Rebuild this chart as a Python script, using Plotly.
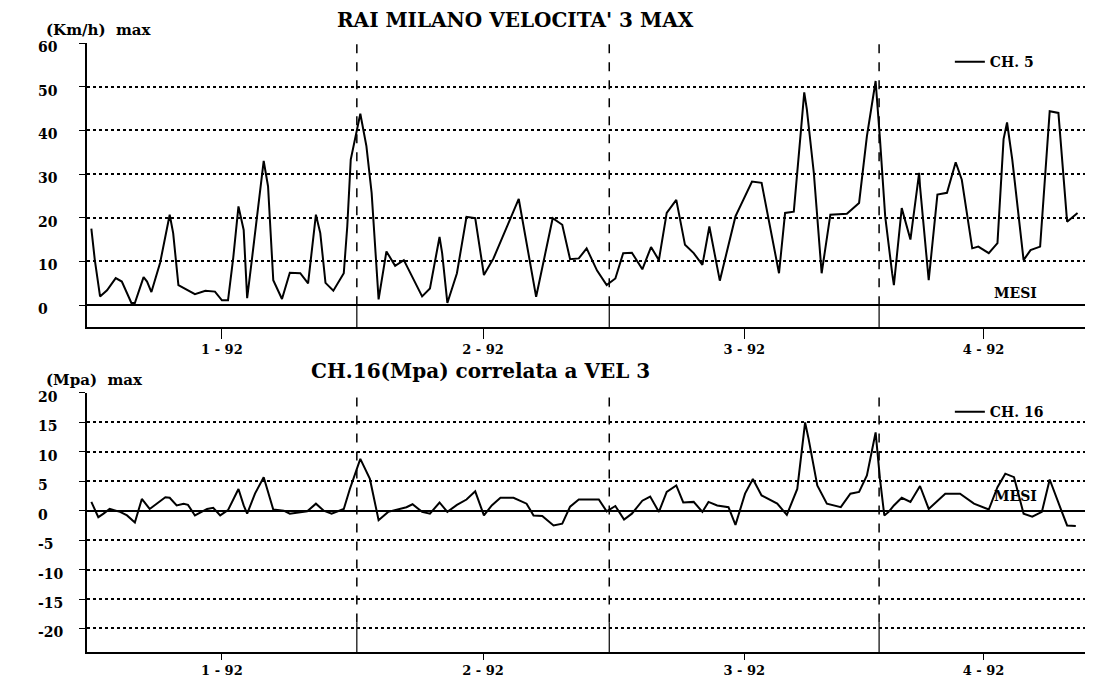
import plotly.graph_objects as go
from plotly.subplots import make_subplots

# days counted from 1 Jan 1992
vel_days = [0.5, 0.9, 1.5, 2.3, 3.3, 4.0, 5.1, 5.5, 6.5, 6.9, 7.4, 8.4, 9.5, 9.9, 10.5,
            12.4, 13.6, 14.7, 15.5, 16.2, 16.8, 17.4, 18.0, 18.4, 18.9, 19.9, 20.3, 20.8,
            21.4, 22.4, 23.3, 24.5, 25.4, 26.3, 26.8, 27.4, 28.3, 29.5, 29.9, 30.3, 30.8,
            31.4, 32.1, 32.7, 33.5, 34.4, 35.4, 36.4, 38.5, 39.4, 40.5, 40.8, 41.4, 42.5,
            43.6, 44.6, 45.6, 46.7, 49.6, 51.6, 53.5, 54.6, 55.5, 56.5, 57.4, 58.6, 59.7,
            60.7, 61.6, 62.6, 63.8, 64.8, 65.7, 66.6, 67.7, 68.7, 69.7, 70.7, 71.5, 72.7,
            74.5, 76.4, 77.5, 79.5, 80.2, 81.2, 82.0, 82.4, 82.7, 83.5, 84.4, 85.4, 87.3,
            88.7, 89.6, 90.6, 91.1, 91.7, 92.5, 92.7, 93.6, 94.6, 95.6, 95.7, 96.7, 97.7,
            98.8, 99.8, 100.5, 101.7, 102.4, 103.6, 104.6, 105.3, 105.7, 106.3, 107.6,
            108.4, 109.5, 110.1, 110.6, 111.6, 112.6, 113.8]
vel_max = [17.5, 10.3, 2.0, 3.4, 6.2, 5.4, 0.5, 0.5, 6.4, 5.4, 3.0, 9.7, 20.7, 16.5, 4.6,
           2.5, 3.3, 3.1, 1.1, 1.1, 10.8, 22.6, 17.2, 1.6, 9.7, 27.2, 33.0, 27.2,
           5.7, 1.4, 7.4, 7.3, 5.0, 20.7, 16.5, 5.1, 3.3, 7.3, 18.0, 33.3, 38.0,
           43.8, 36.4, 25.7, 1.3, 12.3, 9.0, 10.3, 2.0, 3.8, 15.6, 11.9, 0.5, 7.3,
           20.2, 19.9, 6.9, 10.7, 24.3, 1.9, 19.9, 18.4, 10.5, 10.7, 13.0, 7.9, 4.6,
           6.1, 11.9, 12.0, 8.2, 13.3, 10.3, 21.1, 24.1, 13.8, 11.9, 9.2, 18.0, 5.6,
           20.3, 28.3, 28.0, 7.3, 21.1, 21.4, 39.5, 48.7, 44.8, 30.3, 7.3, 20.7, 20.9,
           23.4, 38.7, 51.3, 38.0, 20.3, 7.3, 4.6, 22.2, 15.0, 30.3, 27.2, 5.7, 25.3,
           25.7, 32.7, 28.7, 13.0, 13.4, 11.9, 14.2, 38.0, 41.8, 33.3, 10.3,
           12.6, 13.4, 31.0, 44.4, 44.0, 19.1, 21.1]

ch16_days = [0.5, 1.3, 1.9, 2.6, 3.8, 4.6, 5.5, 6.3, 7.2, 8.0, 9.0, 9.5, 10.3, 11.1, 11.6,
             12.4, 13.8, 14.5, 15.3, 16.2, 17.4, 18.0, 18.4, 19.3, 20.3, 21.4, 22.6, 23.3,
             25.3, 26.3, 27.2, 28.1, 29.5, 30.2, 31.4, 32.5, 33.5, 34.6, 36.7, 37.4, 38.5,
             39.4, 40.5, 41.4, 42.5, 43.6, 44.6, 45.6, 46.5, 47.5, 49.0, 50.5, 51.3, 52.3,
             53.6, 54.6, 55.5, 56.5, 58.8, 59.7, 60.7, 61.7, 62.6, 63.8, 64.7, 65.7, 66.6,
             67.7, 68.5, 69.7, 70.7, 71.4, 72.4, 73.7, 74.5, 75.6, 76.5, 77.5, 79.3, 80.4,
             81.6, 82.5, 82.9, 83.9, 85.0, 86.6, 87.7, 88.7, 89.6, 90.6, 91.1, 91.6, 92.1,
             92.7, 93.6, 94.6, 95.7, 96.7, 97.7, 98.6, 100.3, 101.9, 103.6, 104.6, 105.5,
             106.5, 107.6, 108.6, 109.7, 110.6, 112.0, 112.6, 113.6]
ch16_max = [1.5, -1.1, -0.5, 0.3, -0.2, -0.8, -2.0, 2.0, 0.3, 1.2, 2.3, 2.2, 0.9, 1.2, 1.0,
            -0.8, 0.3, 0.5, -0.8, 0.1, 3.7, 0.9, -0.5, 2.9, 5.7, 0.2, 0.0, -0.5,
            -0.1, 1.2, 0.0, -0.5, 0.3, 3.7, 8.8, 5.4, -1.6, -0.2, 0.6, 1.1, -0.2,
            -0.5, 1.4, -0.2, 1.0, 1.9, 3.3, -0.8, 0.9, 2.2, 2.2, 1.2, -0.8, -0.9,
            -2.5, -2.2, 0.7, 1.9, 1.9, -0.1, 0.8, -1.5, -0.5, 1.7, 2.4, -0.2, 3.2,
            4.3, 1.4, 1.5, -0.2, 1.5, 0.9, 0.6, -2.4, 2.9, 5.4, 2.6, 1.2, -0.7,
            3.7, 15.0, 12.2, 4.3, 1.2, 0.6, 2.9, 3.2, 6.0, 13.3, 5.4, -0.8, -0.2,
            0.9, 2.2, 1.5, 4.2, 0.3, 1.7, 2.9, 2.9, 1.2, 0.2, 4.0, 6.3,
            5.7, -0.5, -1.0, -0.2, 5.3, -0.2, -2.5, -2.6]

month_labels = ["1 - 92", "2 - 92", "3 - 92", "4 - 92"]
month_days = [31, 29, 31, 30]
x_end = 115

vel_ticks = list(range(0, 61, 10))
ch16_ticks = list(range(-20, 21, 5))

FONT = "DejaVu Serif"

# month boundaries and centre of the visible part of each month
starts, bounds = [], []
acc = 0
for d in month_days:
    starts.append(acc)
    acc += d
    bounds.append(acc)
tick_pos = [(s + min(e, x_end)) / 2 for s, e in zip(starts, bounds)]
dividers = [b for b in bounds if b < x_end]

fig = make_subplots(rows=2, cols=1)
fig.add_trace(go.Scatter(x=vel_days, y=vel_max, mode="lines", name="CH. 5",
                         line=dict(color="black", width=2), legend="legend"), row=1, col=1)
fig.add_trace(go.Scatter(x=ch16_days, y=ch16_max, mode="lines", name="CH. 16",
                         line=dict(color="black", width=2), legend="legend2"), row=2, col=1)

tickfont = dict(family=FONT, size=14, color="black", weight="bold")
xfont = dict(family=FONT, size=13, color="black", weight="bold")
xcommon = dict(range=[0, x_end], tickvals=tick_pos, ticktext=month_labels, showgrid=False,
               zeroline=False, showline=True, linecolor="black", linewidth=1.5,
               ticks="outside", tickcolor="black", tickfont=xfont, automargin=False)
ycommon = dict(showgrid=True, gridcolor="black", griddash="dot", gridwidth=1.5,
               zeroline=True, zerolinecolor="black", zerolinewidth=1.5,
               showline=True, linecolor="black", linewidth=1.5,
               ticks="outside", ticklen=6, tickcolor="black", showticklabels=False,
               automargin=False)

fig.update_xaxes(**xcommon)
fig.update_yaxes(**ycommon)
fig.update_layout(
    xaxis=dict(domain=[0, 1], ticklen=10), xaxis2=dict(domain=[0, 1], ticklen=6),
    yaxis=dict(domain=[0.5337, 1], range=[-5, 60], tickvals=vel_ticks),
    yaxis2=dict(domain=[0, 0.4253], range=[-24, 20], tickvals=ch16_ticks),
)

# y tick labels, left aligned like the original print-out
for yr, ticks in (("y", vel_ticks), ("y2", ch16_ticks)):
    for v in ticks:
        fig.add_annotation(xref="paper", yref=yr, x=-0.051, y=v, xanchor="left",
                           yanchor="middle", yshift=-4, text=str(v), showarrow=False,
                           font=tickfont)

# vertical separators: dashed above the baseline box, solid inside it, dotted right edge
panels = [("x", "y", 0, 60, -5, 0.0), ("x2", "y2", -19, 20, -24, 0.4)]
for xr, yr, y_base, y_top, y_bot, mesi_y in panels:
    for d in dividers:
        fig.add_shape(type="line", xref=xr, yref=yr, x0=d, x1=d, y0=y_base, y1=y_top,
                      line=dict(color="black", width=1.5, dash="dash"))
        fig.add_shape(type="line", xref=xr, yref=yr, x0=d, x1=d, y0=y_bot, y1=y_base,
                      line=dict(color="black", width=1.2))
    fig.add_shape(type="line", xref=xr, yref=yr, x0=x_end, x1=x_end, y0=y_bot, y1=y_top,
                  line=dict(color="black", width=1.5, dash="dot"))
    fig.add_annotation(xref=xr, yref=yr, x=106.7, y=mesi_y, yanchor="bottom", yshift=2,
                       text="MESI", showarrow=False,
                       font=dict(family=FONT, size=14, color="black", weight="bold"))

title_font = dict(family=FONT, size=20, color="black", weight="bold")
label_font = dict(family=FONT, size=15, color="black", weight="bold")
texts = [
    (0.4276, 1.038, "center", "RAI MILANO VELOCITA' 3 MAX", title_font),
    (-0.043, 1.021, "left", "(Km/h)  max", label_font),
    (0.393, 0.4614, "center", "CH.16(Mpa) correlata a VEL 3", title_font),
    (-0.043, 0.446, "left", "(Mpa)  max", label_font),
]
for x, y, anchor, text, font in texts:
    fig.add_annotation(xref="paper", yref="paper", x=x, y=y, xanchor=anchor,
                       yanchor="middle", text=text, showarrow=False, font=font)

legend_style = dict(font=dict(family=FONT, size=14, color="black", weight="bold"),
                    bgcolor="rgba(0,0,0,0)", itemwidth=30, xanchor="left", yanchor="top")
# the page body adds an 8 px margin, so the figure is 8 px smaller than the window
fig.update_layout(
    width=1085, height=671,
    margin=dict(l=79, r=5, t=35, b=27, autoexpand=False),
    plot_bgcolor="white", paper_bgcolor="white",
    legend=dict(x=0.862, y=0.995, **legend_style),
    legend2=dict(x=0.862, y=0.42, **legend_style),
    showlegend=True,
)

fig.write_html("out.html")
